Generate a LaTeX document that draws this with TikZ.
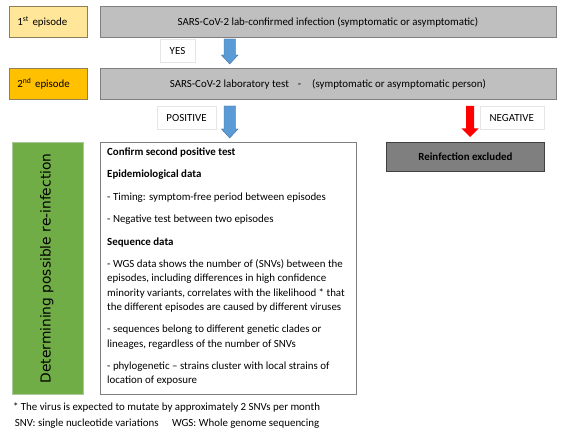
\documentclass[tikz,border=0pt]{standalone}
\usepackage{fontspec}
\setmainfont{Carlito}
\newfontfamily\vfont{DejaVu Sans}
\definecolor{epborder}{HTML}{8C7E58}
\definecolor{grayborder}{HTML}{7F7F7F}
\definecolor{boxgray}{HTML}{BFBFBF}
\definecolor{lblborder}{HTML}{E6E6E6}
\definecolor{arrowblue}{HTML}{5B9BD5}
\definecolor{arrowblueborder}{HTML}{41719C}
\definecolor{green1}{HTML}{70AD47}
\definecolor{greenborder}{HTML}{A9C99A}
\definecolor{darkgray1}{HTML}{7F7F7F}
\definecolor{reborder}{HTML}{404040}
\definecolor{ep1fill}{HTML}{FFE699}
\definecolor{ep2fill}{HTML}{FFC000}
\begin{document}
\begin{tikzpicture}[x=1pt,y=-1pt,
  txt/.style={font=\fontsize{10.9}{12}\selectfont},
  epbox/.style={draw=epborder, line width=0.8pt, anchor=north west, minimum height=30.5, text width=62, inner xsep=8, align=left, txt},
  graybox/.style={draw=grayborder, fill=boxgray, line width=0.8pt, anchor=north west, minimum width=456, minimum height=31, txt},
  lbl/.style={draw=lblborder, fill=white, line width=0.5pt, anchor=north west, inner sep=0, txt},
  ln/.style={anchor=west, inner sep=0, text height=7pt, text depth=2.5pt, txt},
  bluearrow/.style={fill=arrowblue, draw=arrowblueborder, line width=0.4pt},
]
\useasboundingbox (0,0) rectangle (573,438);
\fill[white] (0,0) rectangle (573,438);

% row 1
\node[epbox, fill=ep1fill] (ep1) at (9,6.5) {1\textsuperscript{st} episode};
\node[graybox] (h1) at (99.5,6.5) {SARS-CoV-2 lab-confirmed infection (symptomatic or asymptomatic)};

% YES
\node[lbl, minimum width=34.5, minimum height=23] (yes) at (160,39) {YES};
\filldraw[bluearrow] (224,39) -- (235.5,39) -- (235.5,55) -- (238,55) -- (229.7,64) -- (221.4,55) -- (224,55) -- cycle;

% row 2
\node[epbox, fill=ep2fill] (ep2) at (9,68.5) {2\textsuperscript{nd} episode};
\node[graybox] (h2) at (99.5,68.5) {SARS-CoV-2 laboratory test\hspace{9pt}-\hspace{11pt}(symptomatic or asymptomatic person)};

% labels row
\node[lbl, minimum width=58.5, minimum height=23] (pos) at (157,106) {POSITIVE};
\node[lbl, minimum width=64, minimum height=23] (neg) at (479.5,106) {NEGATIVE};
\filldraw[bluearrow] (224,106) -- (235.5,106) -- (235.5,129) -- (238,129) -- (229.7,138) -- (221.4,129) -- (224,129) -- cycle;
\fill[red] (466,106) -- (474.2,106) -- (474.2,128.5) -- (478.5,128.5) -- (470.1,137) -- (461.7,128.5) -- (466,128.5) -- cycle;

% green
\node[fill=green1, draw=greenborder, line width=0.4pt, anchor=north west, minimum width=71.5, minimum height=252] (grn) at (11.8,142.3) {};
\node[rotate=90, font=\vfont\fontsize{13.8}{16}\selectfont] (vt) at ([xshift=-1]grn.center) {Determining possible re-infection};

% main box
\node[draw=grayborder, fill=white, line width=0.8pt, anchor=north west, minimum width=256, minimum height=252] (mb) at (99.5,142.3) {};

% reinfection
\node[draw=reborder, fill=darkgray1, line width=0.8pt, anchor=north west, minimum width=158, minimum height=29, font=\bfseries\fontsize{10.9}{12}\selectfont] (re) at (386,142.3) {Reinfection excluded};

\foreach \y/\t [count=\i] in {
 153/{\textbf{Confirm second positive test}},
 175.5/{\textbf{Epidemiological data}},
 198/{- Timing: symptom-free period between episodes},
 220.5/{- Negative test between two episodes},
 243/{\textbf{Sequence data}},
 265.4/{- WGS data shows the number of (SNVs) between the},
 279.7/{episodes, including differences in high confidence},
 294/{minority variants, correlates with the likelihood * that},
 308.3/{the different episodes are caused by different viruses},
 330.7/{- sequences belong to different genetic clades or},
 345/{lineages, regardless of the number of SNVs},
 367.4/{- phylogenetic -- strains cluster with local strains of},
 381.7/{location of exposure}}
 \node[ln] (line\i) at (107,\y) {\t};

% footnotes
\node[ln] (fn1) at (12.8,408) {* The virus is expected to mutate by approximately 2 SNVs per month};
\node[ln] (fn2) at (14.6,424) {SNV: single nucleotide variations};
\node[ln] (fn3) at (171.8,424) {WGS: Whole genome sequencing};
\end{tikzpicture}
\end{document}
